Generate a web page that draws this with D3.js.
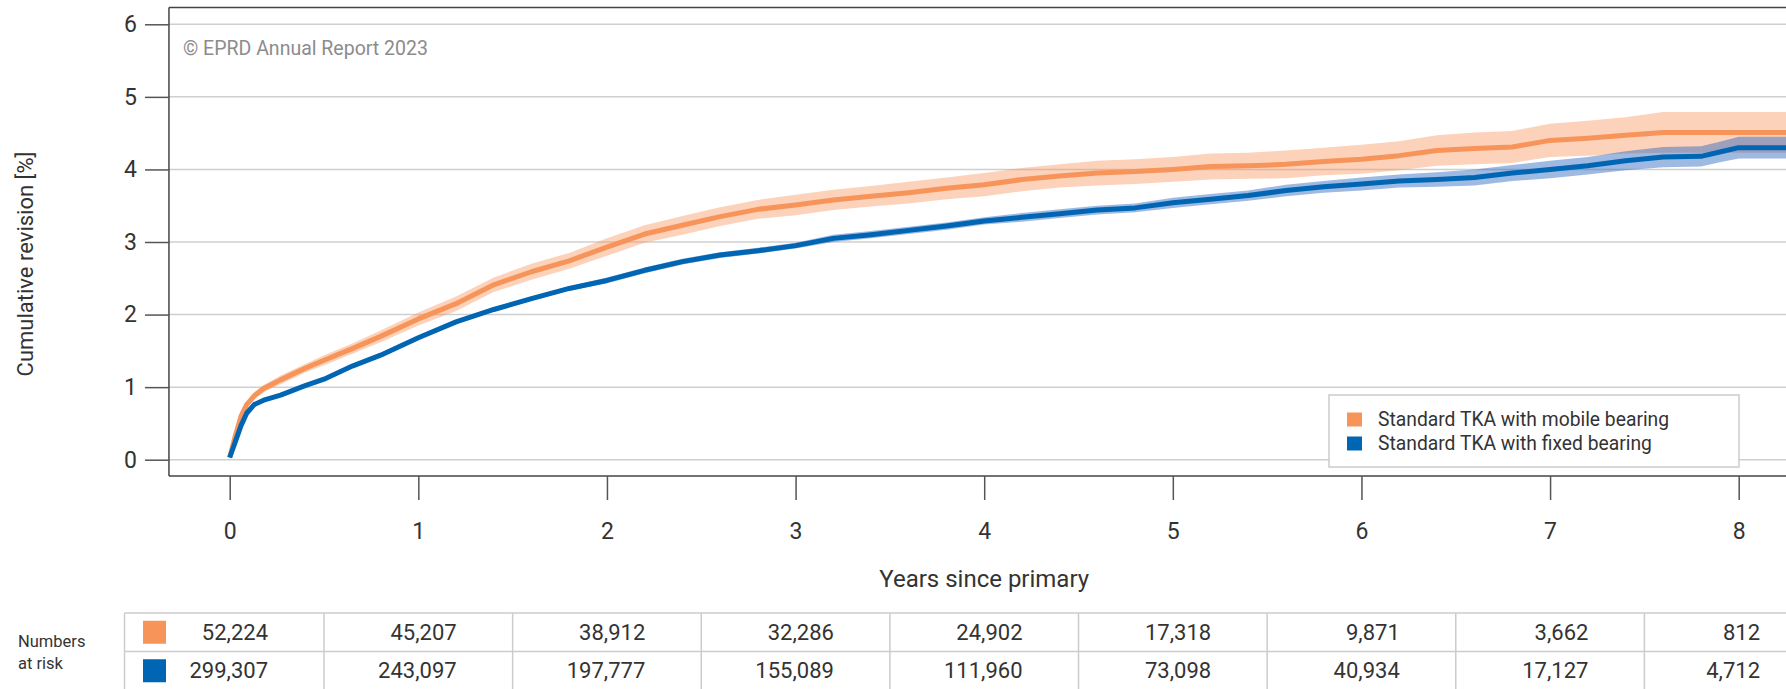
<!DOCTYPE html>
<html>
<head>
<meta charset="utf-8">
<script src="https://cdn.jsdelivr.net/npm/d3@7"></script>
<style>
  html, body { margin: 0; padding: 0; background: #fff; }
  svg { display: block; font-family: Roboto, "DejaVu Sans", sans-serif; }
</style>
</head>
<body>
<svg id="chart" width="1786" height="689"></svg>
<script>
// ---- data -------------------------------------------------------------
const years = [0, 1, 2, 3, 4, 5, 6, 7, 8];
const yTicks = [0, 1, 2, 3, 4, 5, 6];
const seriesNames = ["Standard TKA with mobile bearing", "Standard TKA with fixed bearing"];
const seriesColors = ["#f7945a", "#0066b3"];

const atRiskMobile = [52224, 45207, 38912, 32286, 24902, 17318, 9871, 3662, 812];
const atRiskFixed = [299307, 243097, 197777, 155089, 111960, 73098, 40934, 17127, 4712];

// time points (years since primary) of the cumulative revision estimates
const timeGrid = [0, 0.03, 0.06, 0.09, 0.13, 0.18, 0.27, 0.4, 0.5, 0.65, 0.8,
  1.0, 1.2, 1.4, 1.6, 1.8, 2.0, 2.2, 2.4, 2.6, 2.8, 3.0, 3.2, 3.4, 3.6, 3.8,
  4.0, 4.2, 4.4, 4.6, 4.8, 5.0, 5.2, 5.4, 5.6, 5.8, 6.0, 6.2, 6.4, 6.6, 6.8,
  7.0, 7.2, 7.4, 7.6, 7.8, 7.9, 8.0, 8.3];

// mobile bearing: estimate and 95% confidence limits [%]
const mobileRev = [0.03, 0.33, 0.60, 0.76, 0.88, 0.98, 1.10, 1.26, 1.37, 1.53, 1.70,
  1.94, 2.15, 2.41, 2.59, 2.74, 2.93, 3.11, 3.23, 3.35, 3.45, 3.51, 3.58, 3.63, 3.68, 3.74,
  3.79, 3.86, 3.91, 3.95, 3.97, 4.00, 4.04, 4.05, 4.07, 4.11, 4.14, 4.19, 4.26, 4.29, 4.31,
  4.40, 4.43, 4.47, 4.51, 4.51, 4.51, 4.51, 4.51];
const mobileLow = [0.01, 0.30, 0.56, 0.72, 0.83, 0.93, 1.04, 1.20, 1.30, 1.46, 1.62,
  1.85, 2.05, 2.31, 2.48, 2.63, 2.81, 2.99, 3.10, 3.22, 3.32, 3.37, 3.44, 3.49, 3.53, 3.59,
  3.63, 3.70, 3.75, 3.78, 3.80, 3.83, 3.86, 3.87, 3.88, 3.92, 3.94, 3.99, 4.05, 4.07, 4.09,
  4.17, 4.19, 4.22, 4.23, 4.23, 4.23, 4.23, 4.23];
const mobileHigh = [0.05, 0.36, 0.64, 0.80, 0.93, 1.03, 1.16, 1.32, 1.44, 1.60, 1.78,
  2.03, 2.25, 2.51, 2.70, 2.85, 3.05, 3.23, 3.36, 3.48, 3.58, 3.65, 3.72, 3.77, 3.83, 3.89,
  3.95, 4.02, 4.07, 4.12, 4.14, 4.17, 4.22, 4.23, 4.26, 4.30, 4.34, 4.39, 4.47, 4.51, 4.53,
  4.63, 4.67, 4.72, 4.79, 4.79, 4.79, 4.79, 4.79];

// fixed bearing: estimate and 95% confidence limits [%]
const fixedRev = [0.03, 0.25, 0.47, 0.64, 0.76, 0.82, 0.89, 1.02, 1.11, 1.29, 1.44,
  1.68, 1.90, 2.07, 2.22, 2.36, 2.47, 2.61, 2.73, 2.82, 2.88, 2.95, 3.05, 3.10, 3.16, 3.22,
  3.29, 3.34, 3.39, 3.44, 3.47, 3.54, 3.59, 3.64, 3.71, 3.76, 3.80, 3.84, 3.86, 3.89, 3.95,
  4.00, 4.05, 4.12, 4.17, 4.18, 4.24, 4.30, 4.30];
const fixedLow = [0.02, 0.23, 0.45, 0.62, 0.74, 0.80, 0.87, 1.00, 1.09, 1.27, 1.41,
  1.65, 1.87, 2.04, 2.19, 2.33, 2.43, 2.57, 2.69, 2.78, 2.84, 2.91, 3.00, 3.05, 3.11, 3.17,
  3.24, 3.28, 3.33, 3.38, 3.41, 3.47, 3.52, 3.57, 3.63, 3.68, 3.71, 3.75, 3.76, 3.78, 3.84,
  3.88, 3.93, 3.99, 4.03, 4.04, 4.10, 4.15, 4.15];
const fixedHigh = [0.04, 0.27, 0.49, 0.66, 0.78, 0.84, 0.91, 1.04, 1.13, 1.31, 1.47,
  1.71, 1.93, 2.10, 2.25, 2.39, 2.51, 2.65, 2.77, 2.86, 2.92, 2.99, 3.10, 3.15, 3.21, 3.27,
  3.34, 3.40, 3.45, 3.50, 3.53, 3.61, 3.66, 3.71, 3.79, 3.84, 3.89, 3.93, 3.96, 4.00, 4.06,
  4.12, 4.17, 4.25, 4.31, 4.32, 4.38, 4.45, 4.45];

// ---- layout ------------------------------------------------------------
const W = 1786, H = 689;
const svg = d3.select("#chart");
svg.append("rect").attr("width", W).attr("height", H).attr("fill", "#fff");

const x = d3.scaleLinear().domain([0, 8]).range([229.7, 1738.7]);
const y = d3.scaleLinear().domain([0, 6]).range([459.7, 24.3]);
const frameLeft = x(-0.322), frameTop = y(6.23), frameBottom = y(-0.225);
const textColor = "#333";
const gridColor = "#cfcfcf";
const frameColor = "#444";

// horizontal gridlines
svg.append("g").selectAll("line").data(yTicks).join("line")
  .attr("x1", frameLeft).attr("x2", W)
  .attr("y1", d => y(d)).attr("y2", d => y(d))
  .attr("stroke", gridColor).attr("stroke-width", 1.5);

// watermark
svg.append("text").attr("x", frameLeft + 14).attr("y", 55)
  .attr("font-size", 19.5).attr("fill", "#8c8c8c")
  .text("\u00A9 EPRD Annual Report 2023");

// ---- curves ------------------------------------------------------------
const series = [
  { name: seriesNames[0], color: seriesColors[0], band: "rgba(247,148,90,0.42)",
    rows: timeGrid.map((t, i) => ({ t, v: mobileRev[i], lo: mobileLow[i], hi: mobileHigh[i] })) },
  { name: seriesNames[1], color: seriesColors[1], band: "rgba(40,100,190,0.45)",
    rows: timeGrid.map((t, i) => ({ t, v: fixedRev[i], lo: fixedLow[i], hi: fixedHigh[i] })) }
];

const area = d3.area().x(d => x(d.t)).y0(d => y(d.lo)).y1(d => y(d.hi)).curve(d3.curveLinear);
const line = d3.line().x(d => x(d.t)).y(d => y(d.v)).curve(d3.curveLinear);

const gCurves = svg.append("g");
series.forEach(s => {
  gCurves.append("path").attr("d", area(s.rows)).attr("fill", s.band);
});
series.forEach(s => {
  gCurves.append("path").attr("d", line(s.rows)).attr("fill", "none")
    .attr("stroke", s.color).attr("stroke-width", 5).attr("stroke-linejoin", "round");
});

// ---- frame and axes ----------------------------------------------------
const gFrame = svg.append("g").attr("stroke", frameColor).attr("stroke-width", 1.5);
gFrame.append("line").attr("x1", frameLeft).attr("x2", frameLeft).attr("y1", frameTop).attr("y2", frameBottom);
gFrame.append("line").attr("x1", frameLeft).attr("x2", W).attr("y1", frameTop).attr("y2", frameTop);
gFrame.append("line").attr("x1", frameLeft).attr("x2", W).attr("y1", frameBottom).attr("y2", frameBottom);

const yAxis = svg.append("g").attr("transform", `translate(${frameLeft},0)`)
  .call(d3.axisLeft(y).tickValues(yTicks).tickSize(24).tickPadding(8).tickFormat(d3.format("d")));
const xAxis = svg.append("g").attr("transform", `translate(0,${frameBottom})`)
  .call(d3.axisBottom(x).tickValues(years).tickSize(24).tickPadding(23).tickFormat(d3.format("d")));
[yAxis, xAxis].forEach(g => {
  g.select(".domain").remove();
  g.selectAll(".tick line").attr("stroke", "#555").attr("stroke-width", 1.5);
  g.selectAll(".tick text").attr("fill", textColor).attr("font-size", 23)
    .attr("font-family", "Roboto, 'DejaVu Sans', sans-serif");
});

// axis titles
svg.append("text")
  .attr("transform", `translate(25,${(y(6) + y(0)) / 2 + 22}) rotate(-90)`)
  .attr("text-anchor", "middle").attr("dominant-baseline", "central")
  .attr("font-size", 22).attr("fill", textColor)
  .text("Cumulative revision [%]");
svg.append("text").attr("x", x(4)).attr("y", 587)
  .attr("text-anchor", "middle").attr("font-size", 24).attr("fill", textColor)
  .text("Years since primary");

// ---- legend ------------------------------------------------------------
const lg = svg.append("g").attr("transform", "translate(1329,395)");
lg.append("rect").attr("width", 410).attr("height", 72)
  .attr("fill", "#fff").attr("stroke", "#cccccc").attr("stroke-width", 1.5);
seriesNames.forEach((name, i) => {
  const row = lg.append("g").attr("transform", `translate(18,${17.5 + i * 24})`);
  row.append("rect").attr("width", 15).attr("height", 14).attr("fill", seriesColors[i]);
  row.append("text").attr("x", 31).attr("y", 7).attr("dy", "0.35em")
    .attr("font-size", 19.3).attr("fill", textColor).text(name);
});

// ---- numbers at risk table --------------------------------------------
const tableTop = 613, rowH = 38.5, tableLeft = 124.5;
const colEdges = [tableLeft].concat(years.slice(0, -1).map(k => x(k + 0.5)), [x(8.41)]);
const tableRows = [atRiskMobile, atRiskFixed];
const gT = svg.append("g");
const tableStroke = "#cccccc";

[0, 1, 2].forEach(r => {
  gT.append("line").attr("x1", tableLeft).attr("x2", W)
    .attr("y1", tableTop + r * rowH).attr("y2", tableTop + r * rowH)
    .attr("stroke", tableStroke).attr("stroke-width", 1.5);
});
colEdges.forEach(cx => {
  gT.append("line").attr("x1", cx).attr("x2", cx)
    .attr("y1", tableTop).attr("y2", tableTop + 2 * rowH)
    .attr("stroke", tableStroke).attr("stroke-width", 1.5);
});
const fmt = d3.format(",");
tableRows.forEach((vals, r) => {
  const cy = tableTop + rowH * (r + 0.5);
  gT.append("rect").attr("x", tableLeft + 18.5).attr("y", cy - 11.5)
    .attr("width", 23).attr("height", 23).attr("fill", seriesColors[r]);
  vals.forEach((v, k) => {
    gT.append("text").attr("x", colEdges[k + 1] - 56).attr("y", cy).attr("dy", "0.35em")
      .attr("text-anchor", "end").attr("font-size", 22).attr("fill", textColor)
      .text(fmt(v));
  });
});

svg.append("text").attr("x", 18).attr("y", 641).attr("dy", "0.35em")
  .attr("font-size", 16.5).attr("fill", textColor).text("Numbers");
svg.append("text").attr("x", 18).attr("y", 663).attr("dy", "0.35em")
  .attr("font-size", 16.5).attr("fill", textColor).text("at risk");
</script>
</body>
</html>
